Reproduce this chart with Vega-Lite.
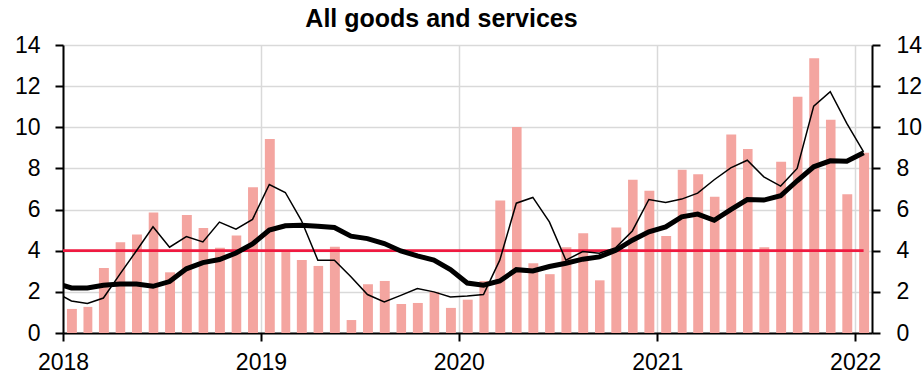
{
  "$schema": "https://vega.github.io/schema/vega-lite/v6.json",
  "width": 809,
  "height": 288,
  "autosize": {"type": "none"},
  "padding": {"left": 63, "top": 45, "right": 50, "bottom": 47},
  "background": "white",
  "title": {"text": "All goods and services", "fontSize": 25, "fontWeight": "bold", "font": "Liberation Sans", "color": "black", "anchor": "middle", "frame": "group", "dx": -26, "offset": 2},
  "config": {
    "view": {"stroke": null},
    "axis": {"domainColor": "black", "domainWidth": 2, "tickColor": "black", "tickWidth": 2, "tickSize": 8, "labelFont": "Liberation Sans", "labelFontSize": 23, "labelColor": "black", "gridColor": "#d9d9d9", "gridWidth": 1.5, "title": null}
  },
  "data": {"values": [
    {"d": "2017-12-01", "bar": null, "thin": 2.01, "thick": 2.45, "t": 4},
    {"d": "2018-01-01", "bar": 1.17, "thin": 1.56, "thick": 2.19, "t": 4},
    {"d": "2018-02-01", "bar": 1.27, "thin": 1.43, "thick": 2.19, "t": 4},
    {"d": "2018-03-01", "bar": 3.16, "thin": 1.70, "thick": 2.32, "t": 4},
    {"d": "2018-04-01", "bar": 4.41, "thin": 2.86, "thick": 2.38, "t": 4},
    {"d": "2018-05-01", "bar": 4.79, "thin": 4.00, "thick": 2.38, "t": 4},
    {"d": "2018-06-01", "bar": 5.86, "thin": 5.16, "thick": 2.27, "t": 4},
    {"d": "2018-07-01", "bar": 2.95, "thin": 4.17, "thick": 2.50, "t": 4},
    {"d": "2018-08-01", "bar": 5.74, "thin": 4.69, "thick": 3.12, "t": 4},
    {"d": "2018-09-01", "bar": 5.11, "thin": 4.43, "thick": 3.42, "t": 4},
    {"d": "2018-10-01", "bar": 4.14, "thin": 5.39, "thick": 3.57, "t": 4},
    {"d": "2018-11-01", "bar": 4.74, "thin": 5.05, "thick": 3.89, "t": 4},
    {"d": "2018-12-01", "bar": 7.09, "thin": 5.52, "thick": 4.33, "t": 4},
    {"d": "2019-01-01", "bar": 9.43, "thin": 7.22, "thick": 5.00, "t": 4},
    {"d": "2019-02-01", "bar": 3.95, "thin": 6.83, "thick": 5.21, "t": 4},
    {"d": "2019-03-01", "bar": 3.55, "thin": 5.48, "thick": 5.24, "t": 4},
    {"d": "2019-04-01", "bar": 3.26, "thin": 3.54, "thick": 5.19, "t": 4},
    {"d": "2019-05-01", "bar": 4.19, "thin": 3.54, "thick": 5.13, "t": 4},
    {"d": "2019-06-01", "bar": 0.63, "thin": 2.73, "thick": 4.71, "t": 4},
    {"d": "2019-07-01", "bar": 2.37, "thin": 1.87, "thick": 4.59, "t": 4},
    {"d": "2019-08-01", "bar": 2.53, "thin": 1.51, "thick": 4.35, "t": 4},
    {"d": "2019-09-01", "bar": 1.41, "thin": 1.83, "thick": 3.99, "t": 4},
    {"d": "2019-10-01", "bar": 1.46, "thin": 2.16, "thick": 3.75, "t": 4},
    {"d": "2019-11-01", "bar": 2.00, "thin": 2.00, "thick": 3.54, "t": 4},
    {"d": "2019-12-01", "bar": 1.22, "thin": 1.75, "thick": 3.08, "t": 4},
    {"d": "2020-01-01", "bar": 1.62, "thin": 1.80, "thick": 2.43, "t": 4},
    {"d": "2020-02-01", "bar": 2.53, "thin": 1.87, "thick": 2.32, "t": 4},
    {"d": "2020-03-01", "bar": 6.44, "thin": 3.54, "thick": 2.53, "t": 4},
    {"d": "2020-04-01", "bar": 10.01, "thin": 6.31, "thick": 3.08, "t": 4},
    {"d": "2020-05-01", "bar": 3.39, "thin": 6.59, "thick": 3.02, "t": 4},
    {"d": "2020-06-01", "bar": 2.86, "thin": 5.40, "thick": 3.23, "t": 4},
    {"d": "2020-07-01", "bar": 4.17, "thin": 3.54, "thick": 3.39, "t": 4},
    {"d": "2020-08-01", "bar": 4.85, "thin": 3.96, "thick": 3.59, "t": 4},
    {"d": "2020-09-01", "bar": 2.56, "thin": 3.88, "thick": 3.70, "t": 4},
    {"d": "2020-10-01", "bar": 5.13, "thin": 4.15, "thick": 4.02, "t": 4},
    {"d": "2020-11-01", "bar": 7.45, "thin": 4.96, "thick": 4.51, "t": 4},
    {"d": "2020-12-01", "bar": 6.91, "thin": 6.49, "thick": 4.92, "t": 4},
    {"d": "2021-01-01", "bar": 4.71, "thin": 6.34, "thick": 5.16, "t": 4},
    {"d": "2021-02-01", "bar": 7.93, "thin": 6.51, "thick": 5.65, "t": 4},
    {"d": "2021-03-01", "bar": 7.72, "thin": 6.80, "thick": 5.78, "t": 4},
    {"d": "2021-04-01", "bar": 6.62, "thin": 7.45, "thick": 5.48, "t": 4},
    {"d": "2021-05-01", "bar": 9.65, "thin": 8.03, "thick": 6.00, "t": 4},
    {"d": "2021-06-01", "bar": 8.94, "thin": 8.40, "thick": 6.49, "t": 4},
    {"d": "2021-07-01", "bar": 4.17, "thin": 7.59, "thick": 6.46, "t": 4},
    {"d": "2021-08-01", "bar": 8.32, "thin": 7.14, "thick": 6.67, "t": 4},
    {"d": "2021-09-01", "bar": 11.49, "thin": 8.00, "thick": 7.40, "t": 4},
    {"d": "2021-10-01", "bar": 13.35, "thin": 11.03, "thick": 8.08, "t": 4},
    {"d": "2021-11-01", "bar": 10.37, "thin": 11.73, "thick": 8.37, "t": 4},
    {"d": "2021-12-01", "bar": 6.75, "thin": 10.19, "thick": 8.35, "t": 4},
    {"d": "2022-01-01", "bar": 8.76, "thin": 8.81, "thick": 8.76, "t": 4}
  ]},
  "encoding": {
    "x": {
      "field": "d", "timeUnit": "utcyearmonth", "type": "temporal",
      "scale": {"domain": [{"year": 2018, "month": 1, "date": 1, "utc": true}, {"year": 2022, "month": 2, "date": 1, "utc": true}]},
      "axis": {"values": [{"year": 2018, "month": 1, "date": 1, "utc": true}, {"year": 2019, "month": 1, "date": 1, "utc": true}, {"year": 2020, "month": 1, "date": 1, "utc": true}, {"year": 2021, "month": 1, "date": 1, "utc": true}, {"year": 2022, "month": 1, "date": 1, "utc": true}], "format": "%Y", "grid": true, "labelPadding": 10, "labelFlush": false, "labelOverlap": false}
    }
  },
  "layer": [
    {
      "mark": {"type": "bar", "color": "#f4a5a0", "width": {"band": 0.65}, "clip": true},
      "encoding": {
        "y": {"field": "bar", "type": "quantitative", "scale": {"domain": [0, 14], "nice": false},
              "axis": {"orient": "left", "values": [0, 2, 4, 6, 8, 10, 12, 14], "grid": true, "labelPadding": 15}}
      }
    },
    {
      "mark": {"type": "line", "color": "#ef1a40", "strokeWidth": 2.8, "clip": true},
      "encoding": {
        "x": {"field": "d", "timeUnit": "utcyearmonth", "type": "temporal", "bandPosition": 0.5},
        "y": {"field": "t", "type": "quantitative", "axis": null}
      }
    },
    {
      "mark": {"type": "line", "color": "black", "strokeWidth": 1.5, "clip": true},
      "encoding": {
        "x": {"field": "d", "timeUnit": "utcyearmonth", "type": "temporal", "bandPosition": 0.5},
        "y": {"field": "thin", "type": "quantitative", "axis": null}
      }
    },
    {
      "mark": {"type": "line", "color": "black", "strokeWidth": 5, "clip": true},
      "encoding": {
        "x": {"field": "d", "timeUnit": "utcyearmonth", "type": "temporal", "bandPosition": 0.5},
        "y": {"field": "thick", "type": "quantitative",
              "axis": {"orient": "right", "values": [0, 2, 4, 6, 8, 10, 12, 14], "grid": false, "labelPadding": 16}}
      }
    }
  ],
  "resolve": {"axis": {"y": "independent"}}
}
